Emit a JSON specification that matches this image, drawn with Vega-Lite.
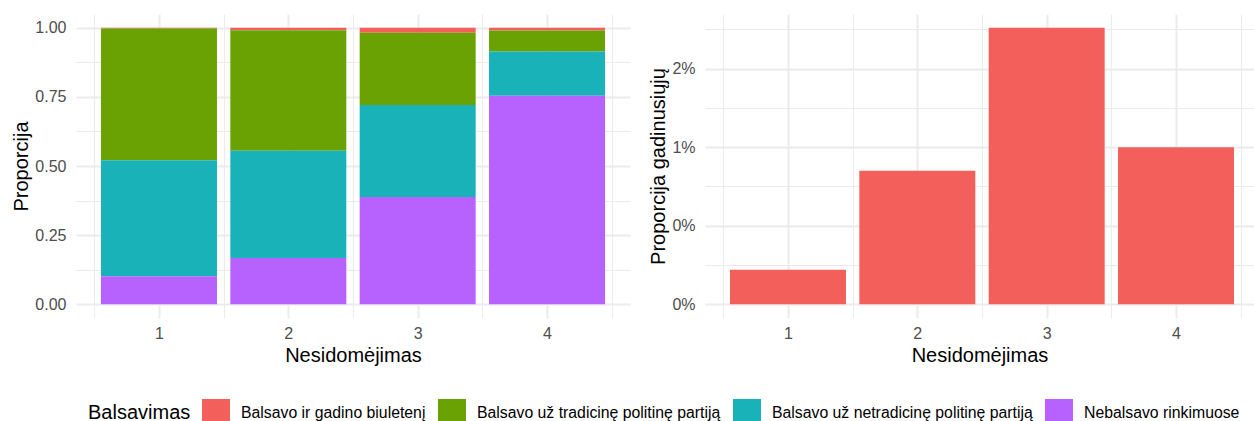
{
  "$schema": "https://vega.github.io/schema/vega-lite/v6.json",
  "padding": {"left": 11, "top": 14, "right": 0, "bottom": 0},
  "background": "white",
  "config": {
    "view": {"stroke": null},
    "font": "Liberation Sans",
    "axis": {
      "domain": false,
      "ticks": false,
      "labelFont": "Liberation Sans",
      "labelFontSize": 16,
      "labelColor": "#4D4D4D",
      "titleFont": "Liberation Sans",
      "titleFontSize": 20,
      "titleFontWeight": "normal",
      "titleColor": "#000000",
      "gridColor": "#EBEBEB"
    }
  },
  "datasets": {
    "d": [
      {"Nesidomejimas": 1, "Balsavimas": "Balsavo ir gadino biuletenį", "Proporcija": 0.0022},
      {"Nesidomejimas": 1, "Balsavimas": "Balsavo už tradicinę politinę partiją", "Proporcija": 0.4771},
      {"Nesidomejimas": 1, "Balsavimas": "Balsavo už netradicinę politinę partiją", "Proporcija": 0.4193},
      {"Nesidomejimas": 1, "Balsavimas": "Nebalsavo rinkimuose", "Proporcija": 0.1014},
      {"Nesidomejimas": 2, "Balsavimas": "Balsavo ir gadino biuletenį", "Proporcija": 0.0085},
      {"Nesidomejimas": 2, "Balsavimas": "Balsavo už tradicinę politinę partiją", "Proporcija": 0.4359},
      {"Nesidomejimas": 2, "Balsavimas": "Balsavo už netradicinę politinę partiją", "Proporcija": 0.3889},
      {"Nesidomejimas": 2, "Balsavimas": "Nebalsavo rinkimuose", "Proporcija": 0.1667},
      {"Nesidomejimas": 3, "Balsavimas": "Balsavo ir gadino biuletenį", "Proporcija": 0.0176},
      {"Nesidomejimas": 3, "Balsavimas": "Balsavo už tradicinę politinę partiją", "Proporcija": 0.2614},
      {"Nesidomejimas": 3, "Balsavimas": "Balsavo už netradicinę politinę partiją", "Proporcija": 0.333},
      {"Nesidomejimas": 3, "Balsavimas": "Nebalsavo rinkimuose", "Proporcija": 0.388},
      {"Nesidomejimas": 4, "Balsavimas": "Balsavo ir gadino biuletenį", "Proporcija": 0.0100},
      {"Nesidomejimas": 4, "Balsavimas": "Balsavo už tradicinę politinę partiją", "Proporcija": 0.076},
      {"Nesidomejimas": 4, "Balsavimas": "Balsavo už netradicinę politinę partiją", "Proporcija": 0.160},
      {"Nesidomejimas": 4, "Balsavimas": "Nebalsavo rinkimuose", "Proporcija": 0.754}
    ]
  },
  "data": {"name": "d"},
  "transform": [
    {"calculate": "indexof(['Nebalsavo rinkimuose', 'Balsavo už netradicinę politinę partiją', 'Balsavo už tradicinę politinę partiją', 'Balsavo ir gadino biuletenį'], datum.Balsavimas)", "as": "eile"}
  ],
  "spacing": 18,
  "hconcat": [
    {
      "width": 554,
      "height": 304,
      "mark": {"type": "bar", "size": 116},
      "encoding": {
        "x": {
          "field": "Nesidomejimas",
          "type": "quantitative",
          "scale": {"domain": [0.3585, 4.6415], "nice": false, "zero": false, "padding": 0},
          "axis": {
            "title": "Nesidomėjimas",
            "values": [0.5, 1, 1.5, 2, 2.5, 3, 3.5, 4, 4.5],
            "labelExpr": "datum.value % 1 == 0 ? format(datum.value, 'd') : ''",
            "labelFlush": false,
            "labelOverlap": false,
            "labelPadding": 7,
            "titlePadding": 4,
            "grid": true,
            "gridWidth": {"condition": {"test": "datum.value % 1 == 0", "value": 2}, "value": 1}
          }
        },
        "y": {
          "field": "Proporcija",
          "type": "quantitative",
          "stack": "zero",
          "scale": {"domain": [-0.05, 1.05], "nice": false, "zero": false, "padding": 0},
          "axis": {
            "title": "Proporcija",
            "values": [0, 0.125, 0.25, 0.375, 0.5, 0.625, 0.75, 0.875, 1],
            "labelExpr": "(datum.value * 8) % 2 == 0 ? format(datum.value, '.2f') : ''",
            "labelOverlap": false,
            "labelPadding": 10,
            "minExtent": 41,
            "maxExtent": 41,
            "titlePadding": 4,
            "grid": true,
            "gridWidth": {"condition": {"test": "(datum.value * 8) % 2 == 0", "value": 2}, "value": 1}
          }
        },
        "color": {
          "field": "Balsavimas",
          "type": "nominal",
          "scale": {
            "domain": ["Balsavo ir gadino biuletenį", "Balsavo už tradicinę politinę partiją", "Balsavo už netradicinę politinę partiją", "Nebalsavo rinkimuose"],
            "range": ["#F3605C", "#6AA204", "#19B2B8", "#B761FF"]
          },
          "legend": {
            "title": "Balsavimas",
            "orient": "none",
            "legendX": 12,
            "legendY": 385,
            "direction": "horizontal",
            "titleOrient": "left",
            "titleFontSize": 20,
            "titleFontWeight": "normal",
            "titleColor": "#000000",
            "titlePadding": 11,
            "labelFontSize": 15.8,
            "labelColor": "#000000",
            "labelOffset": 11,
            "columnPadding": 12,
            "symbolType": "square",
            "symbolSize": 784,
            "symbolStrokeWidth": 0,
            "symbolOpacity": 1,
            "labelLimit": 400
          }
        },
        "order": {"field": "eile", "type": "quantitative", "sort": "ascending"}
      }
    },
    {
      "width": 549,
      "height": 304,
      "transform": [{"filter": "datum.Balsavimas == 'Balsavo ir gadino biuletenį'"}],
      "mark": {"type": "bar", "size": 116, "color": "#F3605C"},
      "encoding": {
        "x": {
          "field": "Nesidomejimas",
          "type": "quantitative",
          "scale": {"domain": [0.3585, 4.6028], "nice": false, "zero": false, "padding": 0},
          "axis": {
            "title": "Nesidomėjimas",
            "values": [0.5, 1, 1.5, 2, 2.5, 3, 3.5, 4, 4.5],
            "labelExpr": "datum.value % 1 == 0 ? format(datum.value, 'd') : ''",
            "labelFlush": false,
            "labelOverlap": false,
            "labelPadding": 7,
            "titlePadding": 4,
            "grid": true,
            "gridWidth": {"condition": {"test": "datum.value % 1 == 0", "value": 2}, "value": 1}
          }
        },
        "y": {
          "field": "Proporcija",
          "type": "quantitative",
          "scale": {"domain": [-0.00088, 0.01848], "nice": false, "zero": false, "padding": 0},
          "axis": {
            "title": "Proporcija gadinusiųjų",
            "values": [0, 0.0025, 0.005, 0.0075, 0.01, 0.0125, 0.015, 0.0175],
            "labelExpr": "datum.value == 0 ? '0%' : datum.value == 0.005 ? '0%' : datum.value == 0.01 ? '1%' : datum.value == 0.015 ? '2%' : ''",
            "labelOverlap": false,
            "labelPadding": 10,
            "minExtent": 33,
            "maxExtent": 33,
            "titlePadding": 4,
            "grid": true,
            "gridWidth": {"condition": {"test": "datum.value == 0 || datum.value == 0.005 || datum.value == 0.01 || datum.value == 0.015", "value": 2}, "value": 1}
          }
        }
      }
    }
  ]
}
